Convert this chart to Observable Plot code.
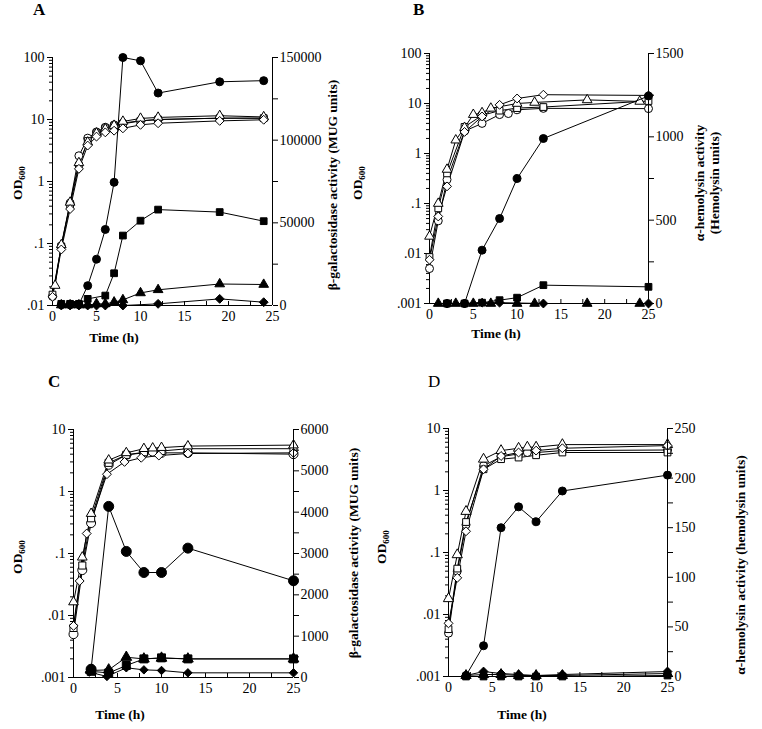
<!DOCTYPE html>
<html><head><meta charset="utf-8">
<script src="https://cdn.jsdelivr.net/npm/d3@7"></script>
<script src="https://cdn.jsdelivr.net/npm/@observablehq/plot@0.6"></script>
<style>
body{margin:0;background:#fff;}
#wrap{position:relative;width:762px;height:729px;overflow:hidden;font-family:"Liberation Serif","Times New Roman",serif;color:#000;}
#wrap svg{position:absolute;}
.lbl{position:absolute;white-space:nowrap;font-weight:bold;font-size:13.5px;line-height:15px;}
.rot{transform:translate(-50%,-50%) rotate(-90deg);}
.ctr{transform:translate(-50%,-50%);}
.lbl sub{font-size:9px;vertical-align:-3px;}
.letter{position:absolute;font-size:17px;line-height:18px;font-weight:bold;}
</style></head><body><div id="wrap"></div>
<script>
// ---------------- Panel A (OD600 open symbols, beta-gal filled symbols) ----------------
const A_tOpen = [0, 1, 2, 3, 4, 5, 6, 7, 8, 10, 12, 19, 24];
const A_tOpenTri = [0.3, 1, 2, 3, 4, 5, 6, 7, 8, 10, 12, 19, 24];
const A_odCircle   = [0.014, 0.09, 0.45, 2.6, 5, 6.3, 7.5, 8.2, 8.8, 9.5, 10, 10.5, 10.5];
const A_odTriangle = [0.021, 0.095, 0.46, 2.0, 4.3, 6, 7, 8, 9.3, 10.4, 10.8, 11.5, 11];
const A_odSquare   = [0.015, 0.09, 0.42, 1.8, 4.5, 6, 7.2, 7.8, 8.5, 9.5, 10, 10.5, 10.5];
const A_odDiamond  = [0.0138, 0.08, 0.36, 1.6, 3.8, 5.3, 6.2, 6.6, 7.2, 8.2, 8.7, 9.5, 9.9];
const A_tCircle = [1, 2, 3, 4, 5, 6, 7, 8, 10, 12, 19, 24];
const A_mugCircle = [500, 500, 600, 12000, 28000, 46000, 74500, 150000, 148000, 128500, 135300, 136000];
const A_tSquare = [1, 2, 3, 4, 6, 7, 8, 10, 12, 19, 24];
const A_mugSquare = [1000, 1000, 1000, 4000, 6000, 19500, 42300, 51300, 58000, 56500, 51000];
const A_tTriangle = [1, 2, 3, 4, 5, 6, 7, 8, 10, 12, 19, 24];
const A_mugTriangle = [300, 300, 300, 300, 1000, 1000, 2000, 3400, 7600, 9500, 13000, 12700];
const A_tDiamond = [1, 2, 3, 4, 5, 6, 8, 12, 19, 24];
const A_mugDiamond = [0, 0, 0, 0, 0, 0, 0, 1000, 4000, 2000];

// ---------------- Panel B (OD600, alpha-hemolysin) ----------------
const B_tTri = [0, 1, 2, 3, 4, 5, 6, 7, 10, 12, 18, 24];
const B_odTriangle = [0.022, 0.1, 0.48, 1.85, 3.3, 6, 6.5, 8, 10, 10.5, 11.8, 11];
const B_tSq = [0, 1, 2, 4, 6, 8, 10, 13, 25];
const B_odSquare = [0.0085, 0.08, 0.4, 3.4, 5.8, 7.2, 8.1, 8.5, 11.2];
const B_tCirc = [0, 1, 2, 4, 6, 8, 9, 10, 13, 25];
const B_odCircle = [0.005, 0.045, 0.3, 2.8, 4, 6, 6.3, 7.5, 8, 7.9];
const B_tDia = [0, 1, 2, 4, 6, 8, 10, 13, 25];
const B_odDiamond = [0.0075, 0.055, 0.22, 2.7, 5.5, 9.4, 12.6, 15, 14.5];
const B_tHCircle = [2, 4, 6, 8, 10, 13, 25];
const B_hemCircle = [0, 0, 320, 510, 750, 990, 1245];
const B_tHSquare = [2, 4, 6, 8, 10, 13, 25];
const B_hemSquare = [0, 0, 5, 20, 35, 110, 100];
const B_tHTriangle = [1, 3, 5, 7, 10, 12, 18, 24];
const B_hemTriangle = [0, 0, 0, 0, 0, 0, 0, 0];
const B_tHDiamond = [2, 4, 6, 8, 13, 25];
const B_hemDiamond = [0, 0, 5, 5, 0, 0];

// ---------------- Panel C (OD600, beta-gal) ----------------
const C_tTri = [0, 1, 2, 4, 6, 8, 9, 10, 13, 25];
const C_odTriangle = [0.0165, 0.087, 0.44, 3.2, 4.2, 4.9, 5, 5.1, 5.4, 5.6];
const C_tSq = [0, 1, 2, 4, 6, 8, 10, 13, 25];
const C_odSquare = [0.0063, 0.064, 0.37, 2.9, 3.9, 4.3, 4.5, 4.9, 4.9];
const C_tCirc = [0, 1, 2, 4, 6, 8, 9, 10, 13, 25];
const C_odCircle = [0.005, 0.054, 0.31, 2.7, 3.9, 4.2, 4.4, 4.2, 4.2, 4.0];
const C_tDia = [0, 0.7, 1.5, 3.8, 5.8, 7.7, 9.7, 13, 25];
const C_odDiamond = [0.0068, 0.036, 0.21, 1.9, 3.0, 3.5, 3.8, 4.1, 4.2];
const C_tMCircle = [2, 4, 6, 8, 10, 13, 25];
const C_mugCircle = [200, 4140, 3050, 2540, 2540, 3130, 2340];
const C_tMSquare = [2, 4, 6, 8, 10, 13, 25];
const C_mugSquare = [150, 110, 290, 450, 475, 450, 450];
const C_tMTriangle = [2, 4, 6, 8, 10, 13, 25];
const C_mugTriangle = [170, 185, 490, 450, 470, 450, 450];
const C_tMDiamond = [1.8, 3.8, 6, 8, 10, 13, 25];
const C_mugDiamond = [130, 25, 235, 185, 170, 113, 113];

// ---------------- Panel D (OD600, alpha-hemolysin) ----------------
const D_tTri = [0, 1, 2, 4, 6, 8, 9, 10, 13, 25];
const D_odTriangle = [0.018, 0.092, 0.46, 3.2, 4.4, 4.8, 5, 5, 5.5, 5.5];
const D_tSq = [0, 1, 2, 4, 6, 8, 10, 13, 25];
const D_odSquare = [0.0058, 0.055, 0.31, 2.2, 3.2, 3.4, 3.7, 4.1, 4.1];
const D_tCirc = [0, 1, 2, 4, 6, 8, 9, 10, 13, 25];
const D_odCircle = [0.005, 0.05, 0.28, 2.5, 3.5, 3.9, 4.1, 4.1, 4.4, 4.5];
const D_tDia = [0, 1, 2, 4, 6, 8, 10, 13, 25];
const D_odDiamond = [0.0072, 0.039, 0.22, 2.2, 3.6, 4.1, 4.4, 4.8, 5.3];
const D_tH = [2, 4, 6, 8, 10, 13, 25];
const D_hemCircle = [1, 31, 150, 171, 156, 187, 203];
const D_hemSquare = [0, 0, 0, 0, 0, 0, 1];
const D_hemTriangle = [1, 2, 2, 1, 1, 1, 3];
const D_hemDiamond = [1, 5, 3, 2, 1, 2, 5];

// ---------------- Axis ticks ----------------
const timeTicks = [0, 5, 10, 15, 20, 25];
const timeMinor = [0, 2.5, 5, 7.5, 10, 12.5, 15, 17.5, 20, 22.5, 25];
const odTicksA = [100, 10, 1, 0.1, 0.01];
const odTicksB = [100, 10, 1, 0.1, 0.01, 0.001];
const odTicksCD = [10, 1, 0.1, 0.01, 0.001];
const mugTicksA = [0, 50000, 100000, 150000];
const hemTicksB = [0, 500, 1000, 1500];
const mugTicksC = [0, 1000, 2000, 3000, 4000, 5000, 6000];
const hemTicksD = [0, 50, 100, 150, 200, 250];

const FONT = '"Liberation Serif","Times New Roman",serif';
const wrap = document.getElementById("wrap");

const zip = (t, v) => t.map((x, i) => ({t: x, v: v[i]}));
const fmtOD = d => d >= 1 ? String(d) : String(+d.toPrecision(3)).replace(/^0/, "");

function minorLog(lo, hi) {
  const out = [];
  for (let e = Math.round(Math.log10(lo)); e < Math.round(Math.log10(hi)); e++)
    for (let m = 2; m <= 9; m++) out.push(+(m * Math.pow(10, e)).toPrecision(3));
  return out;
}
function halfSteps(ticks) {
  const out = [];
  for (let i = 0; i < ticks.length - 1; i++) out.push((ticks[i] + ticks[i + 1]) / 2);
  return out;
}

function makePanel(cfg) {
  const ml = 40, mr = 55, mt = 10, mb = 30;
  const W = ml + cfg.w + mr, H = mt + cfg.h + mb;
  const base = {width: W, height: H, marginLeft: ml, marginRight: mr, marginTop: mt, marginBottom: mb,
    style: {background: "transparent", fontFamily: FONT, fontSize: "14px", color: "black", overflow: "visible"}};
  const yLo = Math.min(...cfg.odTicks), yHi = Math.max(...cfg.odTicks);
  const openMarks = [];
  for (const s of cfg.open) openMarks.push(Plot.line(s.data, {x: "t", y: "v", stroke: "black", strokeWidth: 1}));
  for (const s of cfg.open) openMarks.push(Plot.dot(s.data, {x: "t", y: "v", symbol: s.symbol, r: s.r || 4, fill: "white", stroke: "black", strokeWidth: 1}));
  const left = Plot.plot({...base,
    x: {domain: [0, 25]},
    y: {type: "log", domain: [yLo, yHi]},
    marks: [
      Plot.axisY(cfg.odTicks, {tickSize: 5, tickPadding: 3, tickFormat: fmtOD, label: null}),
      Plot.axisY(minorLog(yLo, yHi), {tickSize: 3, tickFormat: () => "", label: null}),
      Plot.axisX(timeTicks, {tickSize: 0, tickPadding: 6, label: null}),
      Plot.axisX(timeMinor, {tickSize: -4, tickPadding: 0, tickFormat: () => "", label: null}),
      Plot.ruleX([0], {stroke: "black"}),
      Plot.ruleY([yLo], {stroke: "black"}),
      ...openMarks
    ]});
  const rLo = Math.min(...cfg.rTicks), rHi = Math.max(...cfg.rTicks);
  const filledMarks = [];
  for (const s of cfg.filled) filledMarks.push(Plot.line(s.data, {x: "t", y: "v", stroke: "black", strokeWidth: 1}));
  for (const s of cfg.filled) filledMarks.push(Plot.dot(s.data, {x: "t", y: "v", symbol: s.symbol, r: s.r || 4, fill: "black", stroke: "black", strokeWidth: 1}));
  const right = Plot.plot({...base,
    x: {domain: [0, 25], axis: null},
    y: {domain: [rLo, rHi]},
    marks: [
      Plot.axisY(cfg.rTicks, {anchor: "right", tickSize: 5, tickPadding: 2, tickFormat: d => String(d), label: null}),
      Plot.axisY(halfSteps(cfg.rTicks), {anchor: "right", tickSize: 5, tickFormat: () => "", label: null}),
      Plot.ruleX([25], {stroke: "black"}),
      ...filledMarks
    ]});
  for (const svg of [left, right]) {
    svg.style.left = (cfg.x0 - ml) + "px";
    svg.style.top = (cfg.y0 - mt) + "px";
    svg.style.maxWidth = "none";
    wrap.appendChild(svg);
  }
}

makePanel({x0: 52, y0: 57, w: 220, h: 248, odTicks: odTicksA, rTicks: mugTicksA,
  open: [
    {symbol: "circle", data: zip(A_tOpen, A_odCircle)},
    {symbol: "square", data: zip(A_tOpen, A_odSquare), r: 3.8},
    {symbol: "triangle", data: zip(A_tOpenTri, A_odTriangle), r: 3.6},
    {symbol: "diamond2", data: zip(A_tOpen, A_odDiamond)}],
  filled: [
    {symbol: "circle", data: zip(A_tCircle, A_mugCircle)},
    {symbol: "square", data: zip(A_tSquare, A_mugSquare), r: 3.8},
    {symbol: "triangle", data: zip(A_tTriangle, A_mugTriangle), r: 3.6},
    {symbol: "diamond2", data: zip(A_tDiamond, A_mugDiamond)}]});

makePanel({x0: 429, y0: 53, w: 219, h: 250, odTicks: odTicksB, rTicks: hemTicksB,
  open: [
    {symbol: "circle", data: zip(B_tCirc, B_odCircle)},
    {symbol: "square", data: zip(B_tSq, B_odSquare), r: 3.8},
    {symbol: "triangle", data: zip(B_tTri, B_odTriangle), r: 3.6},
    {symbol: "diamond2", data: zip(B_tDia, B_odDiamond)}],
  filled: [
    {symbol: "circle", data: zip(B_tHCircle, B_hemCircle)},
    {symbol: "square", data: zip(B_tHSquare, B_hemSquare), r: 3.8},
    {symbol: "triangle", data: zip(B_tHTriangle, B_hemTriangle), r: 3.6},
    {symbol: "diamond2", data: zip(B_tHDiamond, B_hemDiamond)}]});

makePanel({x0: 73, y0: 429, w: 220, h: 248, odTicks: odTicksCD, rTicks: mugTicksC,
  open: [
    {symbol: "circle", data: zip(C_tCirc, C_odCircle), r: 4.5},
    {symbol: "square", data: zip(C_tSq, C_odSquare), r: 4},
    {symbol: "triangle", data: zip(C_tTri, C_odTriangle), r: 3.6},
    {symbol: "diamond2", data: zip(C_tDia, C_odDiamond)}],
  filled: [
    {symbol: "circle", data: zip(C_tMCircle, C_mugCircle), r: 5},
    {symbol: "square", data: zip(C_tMSquare, C_mugSquare), r: 4.5},
    {symbol: "triangle", data: zip(C_tMTriangle, C_mugTriangle), r: 4},
    {symbol: "diamond2", data: zip(C_tMDiamond, C_mugDiamond), r: 3.8}]});

makePanel({x0: 448, y0: 428, w: 219, h: 248, odTicks: odTicksCD, rTicks: hemTicksD,
  open: [
    {symbol: "circle", data: zip(D_tCirc, D_odCircle)},
    {symbol: "square", data: zip(D_tSq, D_odSquare), r: 3.8},
    {symbol: "triangle", data: zip(D_tTri, D_odTriangle), r: 3.8},
    {symbol: "diamond2", data: zip(D_tDia, D_odDiamond)}],
  filled: [
    {symbol: "circle", data: zip(D_tH, D_hemCircle)},
    {symbol: "square", data: zip(D_tH, D_hemSquare), r: 3.8},
    {symbol: "triangle", data: zip(D_tH, D_hemTriangle), r: 3.8},
    {symbol: "diamond2", data: zip(D_tH, D_hemDiamond)}]});

// ---------------- Text ----------------
function label(html, x, y, cls, extra) {
  const d = document.createElement("div");
  d.className = cls;
  d.innerHTML = html;
  d.style.left = x + "px";
  d.style.top = y + "px";
  if (extra) Object.assign(d.style, extra);
  wrap.appendChild(d);
}
label("A", 33, 1, "letter");
label("B", 413, 1, "letter");
label("C", 48, 373, "letter");
label("D", 428, 373, "letter", {fontWeight: "normal"});

label("OD<sub>600</sub>", 20, 183, "lbl rot");
label("OD<sub>600</sub>", 360, 183, "lbl rot");
label("OD<sub>600</sub>", 20, 557, "lbl rot");
label("OD<sub>600</sub>", 384, 547, "lbl rot");

label("β-galactosidase activity (MUG units)", 332, 185, "lbl rot");
label("α-hemolysin activity", 699, 183, "lbl rot");
label("(Hemolysin units)", 714, 183, "lbl rot");
label("β-galactosidase activity (MUG units)", 353, 553, "lbl rot");
label("α-hemolysin activity (hemolysin units)", 740, 565, "lbl rot");

label("Time (h)", 114, 337, "lbl ctr");
label("Time (h)", 496, 333, "lbl ctr");
label("Time (h)", 120, 714, "lbl ctr");
label("Time (h)", 522, 714, "lbl ctr");
</script></body></html>
